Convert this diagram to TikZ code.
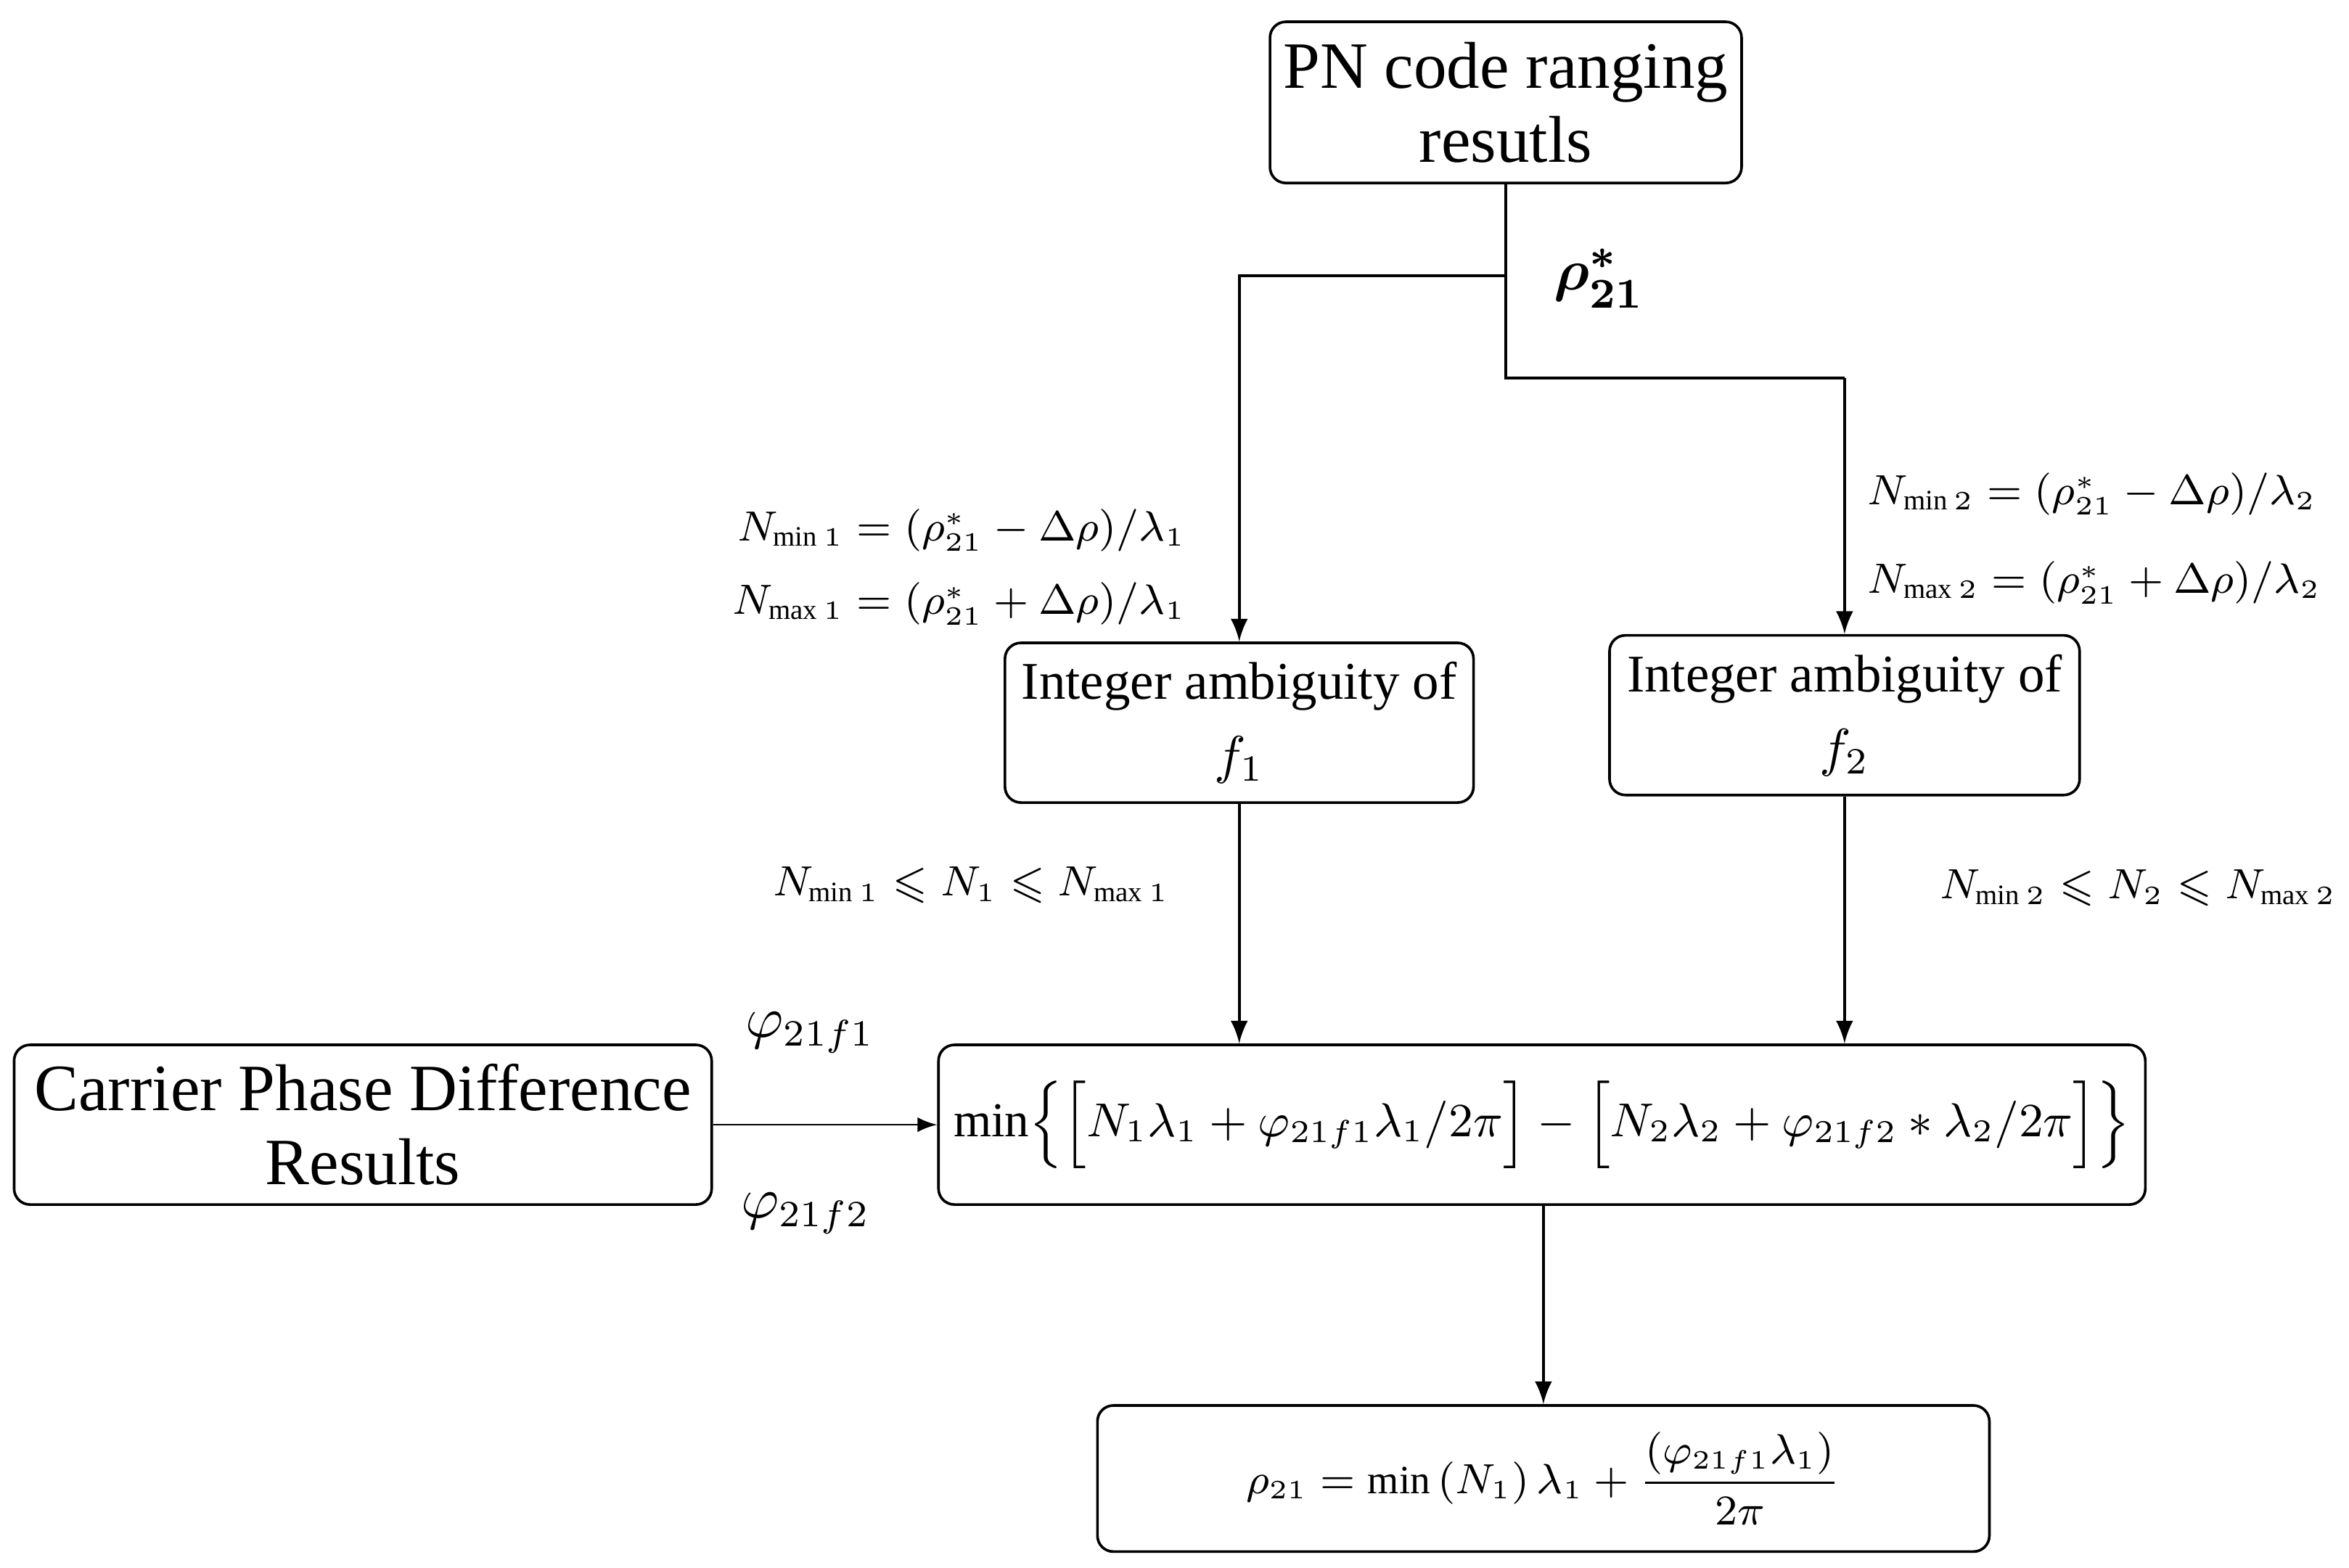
\documentclass[tikz,border=0pt]{standalone}
\usepackage{amsmath}
\usepackage{amssymb}
\usepackage{fontspec}
\setmainfont{Liberation Serif}
\usetikzlibrary{positioning}
\begin{document}
\begin{tikzpicture}[x=0.01cm,y=-0.01cm,thick,
    box/.style={draw,rounded corners=3pt,align=center,inner sep=0pt},
    lab/.style={font=\fontsize{7.6}{9}\selectfont,inner sep=1pt},
    every path/.style={line width=0.5pt}]
          \useasboundingbox (0,0) rectangle (1560,1041);
          \node[box,minimum width=3.13cm,minimum height=1.07cm,font=\fontsize{12.5}{14}\selectfont] (pn) at (1000,68) {PN code ranging\\resutls};
          \node[box,minimum width=3.11cm,minimum height=1.06cm,font=\fontsize{10}{14}\selectfont] (int1) at (823,480) {Integer ambiguity of\\$f_1$};
          \node[box,minimum width=3.12cm,minimum height=1.06cm,font=\fontsize{10}{14}\selectfont] (int2) at (1225,475) {Integer ambiguity of\\$f_2$};
          \node[box,minimum width=4.63cm,minimum height=1.06cm,font=\fontsize{12.5}{14}\selectfont] (cpd) at (241,747) {Carrier Phase Difference\\Results};
          \node[box,minimum width=8.01cm,minimum height=1.06cm,font=\fontsize{9.2}{11}\selectfont] (mn) at (1024,747)
             {$\min\Bigl\{\Bigl[N_1\lambda_1+\varphi_{21f1}\lambda_1/2\pi\Bigr]-\Bigl[N_2\lambda_2+\varphi_{21f2}*\lambda_2/2\pi\Bigr]\Bigr\}$};
          \node[box,minimum width=5.92cm,minimum height=0.97cm,font=\fontsize{7.6}{9}\selectfont] (res) at (1025,982)
             {$\rho_{21}=\min\left(N_1\right)\lambda_1+\dfrac{\left(\varphi_{21f1}\lambda_1\right)}{2\pi}$};
          \coordinate (c1) at (1000,183);
          \coordinate (c2) at (823,183);
          \coordinate (c3) at (1000,251);
          \coordinate (c4) at (1225,251);
          \draw (pn.south) -- (c1) -- (c3) -- (c4);
          \draw[-latex] (c1) -- (c2) -- (int1.north);
          \draw[-latex] (c4) -- (int2.north);
          \draw[-latex] (int1.south) -- (int1.south |- mn.north);
          \draw[-latex] (int2.south) -- (int2.south |- mn.north);
          \draw[-latex,line width=0.3pt] (cpd) -- (mn);
          \draw[-latex] (mn.south -| res.north) -- (res.north);
        \node[font=\fontsize{11}{13}\selectfont] (rho) at (1062,185) {$\boldsymbol{\rho^{*}_{21}}$};
        \node[lab,anchor=east] (nmin1) at (792,352) {$N_{\min 1}=(\rho^{*}_{21}-\Delta\rho)/\lambda_1$};
        \node[lab,anchor=east] (nmax1) at (792,401) {$N_{\max 1}=(\rho^{*}_{21}+\Delta\rho)/\lambda_1$};
        \node[lab,anchor=west] (nmin2) at (1236,328) {$N_{\min 2}=(\rho^{*}_{21}-\Delta\rho)/\lambda_2$};
        \node[lab,anchor=west] (nmax2) at (1236,387) {$N_{\max 2}=(\rho^{*}_{21}+\Delta\rho)/\lambda_2$};
        \node[lab] (rng1) at (645,588) {$N_{\min 1}\leqslant N_1\leqslant N_{\max 1}$};
        \node[lab] (rng2) at (1420,590) {$N_{\min 2}\leqslant N_2\leqslant N_{\max 2}$};
        \node[font=\fontsize{10.5}{12}\selectfont] (ph1) at (538,686) {$\varphi_{21f1}$};
        \node[font=\fontsize{10.5}{12}\selectfont] (ph2) at (535,806) {$\varphi_{21f2}$};
        \end{tikzpicture}
\end{document}
